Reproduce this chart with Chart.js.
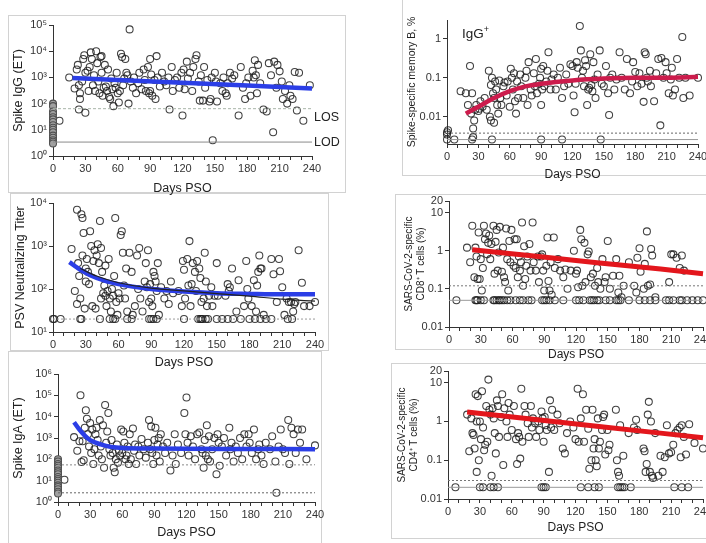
<!DOCTYPE html>
<html>
<head>
<meta charset="utf-8">
<script src="https://cdn.jsdelivr.net/npm/chart.js@4.4.1/dist/chart.umd.min.js"></script>
<style>
  body { margin: 0; width: 706px; height: 543px; overflow: hidden; background: #fff; position: relative; font-family: "Liberation Sans", Arial, sans-serif; }
  .frame { position: absolute; border: 1px solid #d2d2d2; box-sizing: border-box; }
  canvas { position: absolute; }
  .note { position: absolute; color: #222; white-space: nowrap; line-height: 1; }
</style>
</head>
<body>
<div class="frame" style="left:8px;top:15px;width:338px;height:178px"></div>
<div class="frame" style="left:10px;top:193px;width:319px;height:158px"></div>
<div class="frame" style="left:8px;top:351px;width:314px;height:193px"></div>
<div class="frame" style="left:402px;top:-2px;width:306px;height:178px"></div>
<div class="frame" style="left:395px;top:194px;width:313px;height:156px"></div>
<div class="frame" style="left:391px;top:363px;width:317px;height:176px"></div>

<canvas id="igg"></canvas>
<canvas id="memb"></canvas>
<canvas id="psv"></canvas>
<canvas id="cd8"></canvas>
<canvas id="iga"></canvas>
<canvas id="cd4"></canvas>

<span class="note" style="left:314px;top:111px;font-size:12.5px">LOS</span>
<span class="note" style="left:314px;top:136px;font-size:12.5px">LOD</span>
<span class="note" style="left:462px;top:25px;font-size:13.5px">IgG<sup style="font-size:9px">+</sup></span>

<script>
// ---- Spike IgG ----
const iggDay0 = [[0,100],[0,80],[0,50],[0,40],[0,30],[0,25],[0,20],[0,15],[0,12],[0,10],[0,8],[0,6],[0,5],[0,4],[0,3.5],[0,3]];
const iggPoints = [[6,22],[15,1000],[20,380],[22,2000],[23,3000],[24,500],[25,150],[25,250],[24,60],[27,700],[28,5000],[29,7000],[30,1500],[30,45],[32,1800],[33,300],[34,2500],[35,9000],[36,5000],[37,500],[38,1200],[39,300],[40,10000],[41,3500],[42,700],[43,250],[44,6000],[45,6500],[45,1500],[46,200],[47,400],[48,3000],[49,450],[50,300],[51,2000],[52,180],[53,150],[54,900],[55,350],[56,80],[57,600],[58,400],[59,1500],[60,250],[61,110],[62,300],[63,8000],[64,6000],[65,500],[66,900],[67,5000],[68,1500],[69,1200],[70,100],[71,68000],[72,700],[74,400],[75,1000],[77,250],[79,600],[80,1500],[82,350],[84,2000],[85,800],[86,300],[88,2500],[89,250],[90,5000],[90,300],[91,1300],[92,200],[94,800],[95,150],[96,6500],[97,1000],[99,450],[101,1500],[103,700],[105,500],[107,1000],[108,60],[110,2500],[111,300],[113,800],[115,1000],[117,400],[119,1500],[120,35],[121,2000],[122,350],[124,4000],[125,900],[127,1500],[129,300],[130,2500],[132,5000],[133,7000],[135,700],[136,130],[137,1200],[139,130],[140,2500],[141,400],[143,800],[145,120],[146,150],[147,1000],[148,4],[150,1500],[151,700],[152,120],[155,600],[157,300],[158,1000],[160,250],[161,200],[162,600],[164,1500],[166,900],[168,1200],[172,35],[174,2500],[176,400],[178,150],[179,600],[181,1000],[183,200],[185,1800],[186,1000],[187,4500],[188,1200],[189,250],[190,3000],[192,600],[195,60],[198,50],[200,3500],[202,1200],[204,8],[205,4000],[207,400],[208,3000],[210,1700],[212,700],[213,150],[215,300],[217,100],[219,500],[220,200],[222,150],[224,1600],[226,55],[228,1500],[232,22],[238,500]];
const iggFit = [[18,950],[60,800],[120,620],[180,490],[240,380]];
const iggLOS = [[0,64],[240,64]];
const iggLOD = [[0,3.4],[240,3.4]];

// ---- Spike-specific memory B ----
const membPoints = [[0,0.004],[1,0.0045],[0,0.0035],[0,0.0026],[7,0.0026],[24,0.0026],[43,0.0026],[90,0.0026],[110,0.0026],[147,0.0026],[13,0.045],[18,0.04],[22,0.2],[20,0.02],[23,0.012],[24,0.04],[25,0.003],[25,0.005],[26,0.008],[27,0.015],[28,0.02],[30,0.014],[31,0.016],[32,0.025],[34,0.018],[36,0.03],[38,0.015],[40,0.15],[41,0.01],[42,0.065],[42,0.008],[43,0.1],[44,0.04],[45,0.03],[45,0.007],[46,0.08],[47,0.05],[48,0.02],[49,0.012],[50,0.085],[51,0.03],[52,0.02],[54,0.06],[55,0.075],[57,0.035],[58,0.08],[60,0.018],[61,0.17],[62,0.1],[63,0.05],[64,0.13],[65,0.025],[66,0.012],[67,0.08],[68,0.03],[70,0.12],[71,0.06],[73,0.03],[75,0.1],[76,0.15],[77,0.02],[78,0.25],[80,0.05],[81,0.035],[83,0.13],[84,0.06],[85,0.3],[86,0.04],[88,0.07],[89,0.1],[90,0.17],[90,0.02],[91,0.05],[92,0.2],[93,0.06],[95,0.08],[96,0.15],[97,0.45],[99,0.05],[100,0.09],[102,0.12],[104,0.05],[106,0.1],[108,0.18],[110,0.03],[112,0.06],[114,0.12],[116,0.07],[118,0.22],[120,0.2],[121,0.035],[122,0.013],[123,0.07],[124,0.25],[125,0.18],[127,2.1],[128,0.5],[129,0.1],[130,0.15],[131,0.06],[132,0.28],[133,0.2],[134,0.02],[135,0.05],[136,0.055],[137,0.4],[138,0.065],[139,0.045],[140,0.25],[141,0.09],[142,0.03],[144,0.12],[146,0.5],[148,0.07],[150,0.06],[152,0.2],[154,0.04],[155,0.011],[156,0.1],[158,0.12],[160,0.05],[162,0.09],[165,0.45],[167,0.1],[170,0.05],[172,0.3],[175,0.04],[177,0.08],[178,0.25],[180,0.14],[182,0.06],[184,0.13],[186,0.07],[188,0.024],[189,0.45],[190,0.4],[191,0.1],[192,0.08],[194,0.15],[195,0.06],[198,0.025],[200,0.13],[202,0.3],[204,0.006],[205,0.32],[207,0.1],[209,0.25],[210,0.13],[212,0.04],[214,0.09],[215,0.18],[216,0.035],[218,0.05],[220,0.3],[222,0.1],[225,1.1],[226,0.03],[228,0.1],[232,0.035],[240,0.1]];
const membFit = [[18,0.012],[30,0.018],[45,0.03],[60,0.045],[75,0.06],[90,0.07],[120,0.085],[150,0.095],[180,0.1],[210,0.1],[240,0.105]];
const membLOS = [[0,0.0038],[240,0.0038]];
const membLOD = [[0,0.0026],[240,0.0026]];

// ---- PSV neutralizing titer ----
const psvPoints = [[0,20],[1,20],[7,20],[25,20],[26,20],[43,20],[52,20],[55,20],[57,20],[68,20],[72,20],[88,20],[90,20],[92,20],[95,20],[120,20],[133,20],[135,20],[136,20],[137,20],[140,20],[142,20],[150,20],[155,20],[160,20],[165,20],[172,20],[180,20],[185,20],[190,20],[195,20],[200,20],[215,20],[219,20],[17,850],[20,90],[22,45],[22,7000],[23,400],[24,200],[25,60],[26,5500],[27,4500],[27,600],[28,2000],[29,35],[30,300],[30,150],[31,500],[32,250],[33,130],[34,2200],[35,1000],[36,40],[37,450],[38,800],[39,35],[40,600],[41,1100],[42,400],[43,3800],[44,900],[44,60],[45,250],[46,80],[47,120],[48,70],[48,350],[49,40],[50,90],[51,500],[52,60],[53,30],[54,100],[55,70],[56,200],[57,4500],[58,50],[59,25],[60,80],[61,60],[62,1800],[63,2200],[64,700],[65,120],[66,60],[67,300],[68,30],[70,700],[72,250],[73,25],[75,40],[77,600],[78,100],[79,900],[80,60],[82,30],[84,150],[85,400],[86,110],[87,800],[88,50],[89,130],[90,60],[91,40],[92,250],[93,200],[94,150],[95,90],[96,400],[97,25],[99,110],[102,60],[104,90],[106,45],[108,150],[110,80],[115,90],[118,40],[119,450],[120,280],[121,60],[123,500],[124,120],[125,1300],[126,40],[127,130],[128,400],[130,250],[131,90],[132,450],[134,300],[135,180],[136,50],[138,60],[139,700],[140,150],[141,40],[143,70],[145,110],[146,40],[148,70],[150,400],[151,70],[158,70],[160,130],[161,90],[162,110],[164,300],[168,30],[170,160],[175,40],[177,450],[178,100],[179,60],[182,40],[184,160],[186,30],[187,120],[188,250],[189,600],[190,300],[191,300],[193,25],[200,500],[202,220],[205,50],[207,500],[208,260],[210,110],[212,25],[214,60],[216,50],[218,50],[220,30],[221,45],[222,50],[225,800],[228,140],[230,40],[235,40],[240,50]];
const psvFit = [[15,420],[25,280],[40,180],[60,130],[90,100],[120,88],[150,80],[180,77],[210,75],[240,75]];
const psvFitAlt = [[25,300],[40,200],[60,140],[90,105],[120,90],[150,78],[180,68],[210,58],[240,52]];
const psvLOD = [[0,20],[240,20]];

// ---- CD8 T cells ----
const cd8Points = [[7,0.05],[25,0.05],[26,0.05],[27,0.05],[30,0.05],[33,0.05],[42,0.05],[43,0.05],[45,0.05],[47,0.05],[48,0.05],[50,0.05],[52,0.05],[55,0.05],[58,0.05],[63,0.05],[67,0.05],[70,0.05],[75,0.05],[78,0.05],[88,0.05],[90,0.05],[92,0.05],[95,0.05],[100,0.05],[108,0.05],[120,0.05],[123,0.05],[127,0.05],[133,0.05],[135,0.05],[137,0.05],[140,0.05],[142,0.05],[148,0.05],[152,0.05],[158,0.05],[160,0.05],[162,0.05],[170,0.05],[180,0.05],[185,0.05],[190,0.05],[195,0.05],[205,0.05],[208,0.05],[212,0.05],[218,0.05],[220,0.05],[225,0.05],[230,0.05],[235,0.05],[240,0.05],[17,1.2],[20,0.5],[22,4.5],[24,0.2],[25,1.2],[26,0.7],[27,0.18],[28,3],[29,0.18],[30,0.6],[31,0.09],[32,0.35],[33,4.5],[34,2],[35,2.8],[36,0.8],[37,1.6],[38,2.5],[39,0.6],[40,1.5],[42,4.5],[43,0.25],[44,1.7],[45,3.5],[46,0.3],[47,0.9],[48,4.2],[50,0.28],[51,1.2],[52,0.2],[53,0.15],[54,3.8],[55,0.6],[56,0.09],[57,1.8],[58,0.5],[59,3.5],[61,0.4],[62,2],[63,0.35],[64,2],[65,0.2],[66,0.7],[67,0.3],[68,0.5],[69,5.5],[70,0.12],[71,1.3],[72,0.18],[73,0.4],[74,0.7],[76,1.5],[77,0.3],[79,5.5],[80,0.5],[82,0.3],[84,0.7],[85,0.15],[87,0.7],[88,0.8],[89,0.3],[90,0.09],[92,0.4],[93,2.2],[94,0.16],[95,0.09],[96,0.5],[97,0.07],[99,2.2],[100,0.35],[103,0.6],[105,0.3],[108,0.2],[110,0.32],[112,0.1],[115,0.3],[118,1],[120,0.25],[121,0.3],[122,0.11],[124,3.5],[125,2],[126,0.12],[128,1.6],[129,0.15],[131,0.8],[132,0.95],[134,0.2],[136,0.25],[138,0.12],[140,0.35],[141,0.15],[143,0.1],[145,0.6],[147,0.15],[148,0.2],[150,1.8],[152,0.1],[155,0.22],[158,0.6],[160,0.08],[161,0.22],[163,0.06],[165,0.12],[170,0.5],[175,0.12],[177,0.08],[178,0.65],[180,1.15],[181,0.28],[184,0.1],[185,0.45],[187,3.2],[188,0.12],[190,0.13],[191,1.1],[192,0.75],[195,0.06],[208,0.15],[210,0.8],[212,0.8],[215,0.65],[218,0.35],[220,0.75],[222,0.3]];
const cd8Fit = [[22,1.05],[80,0.72],[140,0.48],[200,0.33],[240,0.25]];
const cd8LOS = [[0,0.12],[240,0.12]];
const cd8LOD = [[0,0.05],[240,0.05]];

// ---- Spike IgA ----
const igaDay0 = [[0,100],[0,80],[0,60],[0,50],[0,40],[0,30],[0,25],[0,20],[0,15],[0,12],[0,10],[0,8],[0,6],[0,5],[0,4],[0,3],[0,2.5]];
const igaPoints = [[6,11],[15,1100],[18,250],[20,700],[21,100000],[22,75],[23,700],[24,90],[25,3000],[26,20000],[27,8000],[28,1500],[29,400],[30,5000],[31,200],[32,2500],[33,60],[34,300],[35,1500],[36,3000],[37,800],[38,150],[39,7000],[40,400],[41,100],[42,4000],[43,40],[44,35000],[45,600],[46,2000],[47,15000],[48,300],[49,150],[50,800],[51,200],[52,40],[53,25],[54,100],[55,500],[56,70],[57,250],[58,150],[59,2500],[60,200],[61,2000],[62,600],[63,100],[64,150],[65,400],[66,60],[67,1500],[68,100],[70,2800],[71,250],[72,500],[73,60],[75,400],[76,150],[78,900],[80,300],[82,120],[84,600],[85,7000],[86,300],[87,3500],[88,200],[89,60],[90,800],[91,3000],[92,150],[93,500],[94,1000],[95,80],[96,1500],[98,400],[100,200],[102,600],[105,30],[107,150],[109,1500],[110,60],[112,500],[115,200],[118,15000],[119,1500],[120,80000],[121,600],[122,150],[124,1200],[126,400],[128,100],[130,1500],[132,1800],[134,300],[135,200],[136,40],[137,800],[138,150],[139,4000],[140,100],[141,1200],[142,80],[144,300],[146,1000],[148,20],[149,1500],[150,600],[151,50],[153,400],[155,1000],[157,150],[160,3000],[161,300],[162,600],[164,80],[166,400],[168,200],[170,1000],[172,100],[174,1500],[176,400],[178,1500],[179,600],[181,200],[183,2500],[185,100],[187,300],[188,500],[190,150],[192,60],[194,600],[198,300],[200,1200],[203,80],[204,2.7],[206,400],[208,2500],[210,300],[212,200],[215,7000],[216,60],[218,3000],[220,1500],[222,200],[224,2500],[226,600],[228,2500],[232,100],[240,450]];
const igaFit = [[15,5500],[20,2500],[25,1300],[30,800],[40,500],[50,380],[60,340],[90,320],[120,310],[180,305],[240,300]];
const igaLOS = [[0,55],[240,55]];
const igaLOD = [[0,2.7],[240,2.7]];

// ---- CD4 T cells ----
const cd4Points = [[7,0.02],[30,0.02],[33,0.02],[40,0.02],[43,0.02],[47,0.02],[88,0.02],[90,0.02],[92,0.02],[125,0.02],[132,0.02],[138,0.02],[142,0.02],[160,0.02],[162,0.02],[164,0.02],[166,0.02],[172,0.02],[213,0.02],[220,0.02],[226,0.02],[18,1.5],[20,0.17],[22,1.2],[23,0.5],[24,0.45],[25,0.2],[26,5],[27,1],[27,0.05],[28,4.5],[29,0.1],[30,1],[31,0.35],[32,6],[33,0.7],[34,0.18],[35,0.25],[36,2.5],[37,0.3],[38,12],[39,2],[40,1.5],[41,0.04],[42,2.2],[43,1.2],[44,0.5],[45,0.15],[46,3.5],[47,2.5],[48,0.4],[50,1.3],[51,5],[52,0.075],[53,2.2],[55,1],[56,0.4],[57,3],[58,1.5],[60,0.6],[62,2.5],[64,0.35],[65,0.08],[66,0.5],[67,0.4],[68,0.11],[69,7],[70,0.3],[72,2.5],[73,1.5],[75,0.9],[76,0.4],[78,2.5],[79,0.7],[80,1.2],[82,0.9],[83,0.4],[85,1],[86,0.6],[88,1.8],[89,1.2],[90,0.3],[91,1.3],[92,0.8],[93,0.6],[95,0.05],[96,3.5],[97,0.7],[98,2],[100,0.6],[103,1.5],[105,0.9],[108,0.2],[110,0.15],[112,0.5],[115,1],[118,0.7],[120,0.35],[122,7],[123,0.3],[125,1.2],[127,5],[128,0.3],[130,2],[132,0.65],[133,0.06],[135,0.1],[136,2],[137,0.2],[138,0.35],[139,0.1],[140,0.07],[141,1.2],[142,0.2],[143,0.3],[145,0.6],[146,1.3],[147,1.5],[148,0.14],[150,0.6],[151,0.18],[152,0.25],[158,2],[159,0.1],[160,0.05],[161,0.04],[162,0.8],[165,0.13],[170,0.5],[175,0.7],[177,1.1],[178,0.6],[184,0.2],[185,0.17],[186,0.05],[187,0.08],[188,1.5],[189,3.2],[190,0.05],[191,1],[192,0.04],[193,0.035],[195,0.5],[198,0.04],[200,0.13],[202,0.05],[204,0.12],[206,0.8],[208,0.15],[210,0.16],[212,0.25],[214,0.5],[216,0.6],[218,0.7],[219,0.12],[220,0.8],[222,0.4],[224,0.14],[227,0.85],[232,0.28],[240,0.2]];
const cd4Fit = [[18,1.75],[80,1.14],[140,0.75],[200,0.5],[240,0.38]];
const cd4LOS = [[0,0.03],[240,0.03]];
const cd4LOD = [[0,0.02],[240,0.02]];

// tick labels
const expTicks = [1, 10, 100, 1000, 10000, 100000, 1000000];
const expLabels = ['10\u2070', '10\u00b9', '10\u00b2', '10\u00b3', '10\u2074', '10\u2075', '10\u2076'];
const pctTicks = [0.01, 0.1, 1];
const pctLabels = ['0.01', '0.1', '1'];
const tcellTicks = [0.01, 0.1, 1, 10, 20];
const tcellLabels = ['0.01', '0.1', '1', '10', '20'];

Chart.defaults.font.family = '"Liberation Sans", Arial, sans-serif';
Chart.defaults.color = '#333';

const AXIS = '#333';

function circles(data, fill) {
  return {
    data: data,
    pointRadius: 3.5,
    pointBorderWidth: 1.05,
    pointBorderColor: fill ? '#505050' : 'rgba(30,30,30,0.85)',
    pointBackgroundColor: fill ? '#a0a0a0' : 'rgba(0,0,0,0)',
    showLine: false,
    clip: false
  };
}

function fit(data, color, width, curved) {
  return {
    data: data,
    showLine: true,
    borderColor: color,
    borderWidth: width,
    pointRadius: 0,
    cubicInterpolationMode: curved ? 'monotone' : 'default',
    clip: false
  };
}

function guide(data, color, dash) {
  return {
    data: data,
    showLine: true,
    borderColor: color,
    borderWidth: 1,
    borderDash: dash,
    pointRadius: 0,
    clip: false
  };
}

function panel(id, box, yScale, datasets) {
  const cv = document.getElementById(id);
  const pt = 10, pr = 16;
  cv.width = box.x1 - box.x0 + box.yw + pr;
  cv.height = box.y1 - box.y0 + pt + box.xh;
  cv.style.left = (box.x0 - box.yw) + 'px';
  cv.style.top = (box.y0 - pt) + 'px';

  new Chart(cv, {
    type: 'scatter',
    data: { datasets: datasets },
    options: {
      responsive: false,
      animation: false,
      events: [],
      layout: { padding: { top: pt, right: pr, left: 0, bottom: 0 } },
      plugins: { legend: { display: false }, tooltip: { enabled: false } },
      scales: {
        x: {
          type: 'linear',
          min: 0,
          max: 240,
          border: { color: AXIS, width: 1 },
          grid: { drawOnChartArea: false, tickLength: 4, color: AXIS },
          ticks: {
            stepSize: 10,
            autoSkip: false,
            maxRotation: 0,
            padding: 2,
            font: { size: box.tickSize },
            callback: v => (v % 30 === 0 ? String(v) : '')
          },
          title: { display: true, text: 'Days PSO', font: { size: box.titleSize }, color: '#222', padding: { top: 3, bottom: 0 } },
          afterFit: s => { s.height = box.xh; }
        },
        y: {
          type: 'logarithmic',
          min: yScale.min,
          max: yScale.max,
          border: { color: AXIS, width: 1 },
          grid: { drawOnChartArea: false, tickLength: 4, color: AXIS },
          afterBuildTicks: s => { s.ticks = yScale.ticks.map(v => ({ value: v })); },
          ticks: {
            padding: 2,
            font: { size: box.tickSize },
            callback: (v, i) => yScale.labels[i]
          },
          title: { display: true, text: yScale.title, font: { size: yScale.titleSize }, color: '#222', padding: { top: 4, bottom: 2 } },
          afterFit: s => { s.width = box.yw; }
        }
      }
    }
  });
}

const BLUE = '#2b3ee6';
const RED = '#e3161c';
const CRIMSON = '#cc1c4c';
const GUIDE = '#9a9a9a';

panel('igg', { x0: 53, x1: 312, y0: 25, y1: 156, yw: 46, xh: 40, tickSize: 11, titleSize: 12.5 },
  { min: 1, max: 100000, ticks: expTicks.slice(0, 6), labels: expLabels.slice(0, 6), title: 'Spike IgG (ET)', titleSize: 12.5 },
  [fit(iggFit, BLUE, 4.5, false), guide(iggLOS, '#a8b4a8', [3, 2]), guide(iggLOD, '#8a8a8a', []), circles(iggDay0, true), circles(iggPoints, false)]);

panel('memb', { x0: 447, x1: 698, y0: 20, y1: 144, yw: 45, xh: 38, tickSize: 11, titleSize: 12 },
  { min: 0.002, max: 3, ticks: pctTicks, labels: pctLabels, title: 'Spike-specific memory B, %', titleSize: 10.5 },
  [fit(membFit, CRIMSON, 4.5, true), guide(membLOS, '#666', [2, 2]), guide(membLOD, GUIDE, []), circles(membPoints, false)]);

panel('psv', { x0: 53, x1: 315, y0: 203, y1: 332, yw: 44, xh: 38, tickSize: 11, titleSize: 12.5 },
  { min: 10, max: 10000, ticks: expTicks.slice(1, 5), labels: expLabels.slice(1, 5), title: 'PSV Neutralizing Titer', titleSize: 12.5 },
  [fit(psvFitAlt, '#222', 1.2, true), fit(psvFit, BLUE, 4.5, true), guide(psvLOD, GUIDE, [2, 2]), circles(psvPoints, false)]);

panel('cd8', { x0: 449, x1: 703, y0: 200.5, y1: 327, yw: 50, xh: 35, tickSize: 11, titleSize: 12 },
  { min: 0.01, max: 20, ticks: tcellTicks, labels: tcellLabels, title: ['SARS-CoV-2-specific', 'CD8\u207a T cells (%)'], titleSize: 10 },
  [fit(cd8Fit, RED, 5, false), guide(cd8LOS, '#777', [2, 2]), guide(cd8LOD, GUIDE, []), circles(cd8Points, false)]);

panel('iga', { x0: 58, x1: 315, y0: 374, y1: 502, yw: 51, xh: 38, tickSize: 11, titleSize: 12.5 },
  { min: 1, max: 1000000, ticks: expTicks, labels: expLabels, title: 'Spike IgA (ET)', titleSize: 12.5 },
  [fit(igaFit, BLUE, 4.5, true), guide(igaLOS, '#888', [2, 2]), guide(igaLOD, '#666', [2, 2]), circles(igaDay0, true), circles(igaPoints, false)]);

panel('cd4', { x0: 448, x1: 703, y0: 371, y1: 499, yw: 56, xh: 36, tickSize: 11, titleSize: 12 },
  { min: 0.01, max: 20, ticks: tcellTicks, labels: tcellLabels, title: ['SARS-CoV-2-specific', 'CD4\u207a T cells (%)'], titleSize: 10 },
  [fit(cd4Fit, RED, 5, false), guide(cd4LOS, '#777', [2, 2]), guide(cd4LOD, GUIDE, []), circles(cd4Points, false)]);
</script>
</body>
</html>
